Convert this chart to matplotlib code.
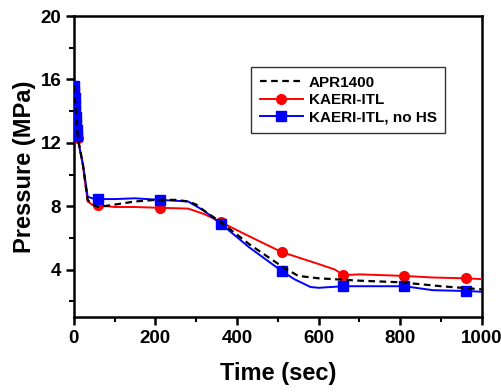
import matplotlib
matplotlib.use('Agg')
import matplotlib.pyplot as plt
from matplotlib.ticker import MultipleLocator

plt.rcParams['font.family'] = ['Liberation Sans', 'DejaVu Sans']
plt.rcParams['font.weight'] = 'bold'

# APR1400 (dashed)
t_apr = [0, 2, 4, 6, 8, 10, 22, 34, 45, 60, 100, 150, 200, 250, 280, 300, 320, 360,
         430, 510, 550, 600, 700, 800, 900, 1000]
p_apr = [15.6, 15.0, 14.3, 13.6, 12.9, 12.3, 10.7, 8.4, 8.1, 7.95, 8.1, 8.3, 8.4, 8.4, 8.3, 8.1, 7.7, 7.0,
         5.6, 4.2, 3.6, 3.45, 3.3, 3.2, 2.95, 2.75]

# KAERI-ITL
t_itl = [0, 2, 4, 6, 8, 10, 22, 34, 45, 60, 100, 150, 210, 280, 320, 360, 430, 510,
         600, 640, 660, 700, 810, 880, 960, 1000]
p_itl = [15.6, 15.0, 14.3, 13.6, 12.9, 12.3, 10.6, 8.3, 8.1, 8.05, 7.95, 7.95, 7.9, 7.85, 7.5, 7.0, 6.1, 5.1,
         4.35, 4.0, 3.65, 3.7, 3.6, 3.5, 3.45, 3.4]
mk_itl = [0, 1, 2, 3, 4, 5, 9, 12, 15, 17, 20, 22, 24]

# KAERI-ITL, no HS
t_nohs = [0, 1, 2, 3, 4, 5, 6, 7, 8, 22, 34, 45, 60, 100, 150, 210, 280, 320, 360, 430,
          510, 540, 580, 600, 660, 750, 810, 880, 960, 1000]
p_nohs = [15.6, 15.2, 14.8, 14.4, 14.0, 13.6, 13.2, 12.8, 12.4, 10.7, 8.6, 8.5, 8.45, 8.45, 8.5, 8.4, 8.3, 7.7, 6.9, 5.4,
          3.9, 3.4, 2.9, 2.85, 2.95, 2.95, 2.95, 2.7, 2.65, 2.6]
mk_nohs = [0, 1, 2, 3, 4, 5, 6, 7, 8, 12, 15, 18, 20, 24, 26, 28]

fig, ax = plt.subplots(figsize=(5.02, 3.92), dpi=100)
fig.subplots_adjust(left=0.147, right=0.960, top=0.959, bottom=0.191)

ax.plot(t_apr, p_apr, color='black', linestyle=(0, (3, 2)), linewidth=1.6, label='APR1400', zorder=4)
ax.plot(t_itl, p_itl, color='red', linewidth=1.4, marker='o', markersize=7,
        markevery=mk_itl, label='KAERI-ITL', zorder=3)
ax.plot(t_nohs, p_nohs, color='blue', linewidth=1.4, marker='s', markersize=7,
        markevery=mk_nohs, label='KAERI-ITL, no HS', zorder=3)

ax.set_xlim(0, 1000)
ax.set_ylim(1, 20)
ax.xaxis.set_major_locator(MultipleLocator(200))
ax.xaxis.set_minor_locator(MultipleLocator(100))
ax.yaxis.set_major_locator(MultipleLocator(4))
ax.yaxis.set_minor_locator(MultipleLocator(2))
ax.set_yticks([4, 8, 12, 16, 20])
ax.tick_params(which='major', direction='out', length=6, width=1.8, labelsize=13.5, pad=3)
ax.tick_params(which='minor', direction='out', length=3.5, width=1.5)
for s in ax.spines.values():
    s.set_linewidth(1.8)
for lab in ax.get_xticklabels() + ax.get_yticklabels():
    lab.set_fontweight('bold')

ax.set_xlabel('Time (sec)', fontsize=17, fontweight='bold', labelpad=11)
ax.set_ylabel('Pressure (MPa)', fontsize=17, fontweight='bold', labelpad=3)

leg = ax.legend(loc='upper left', bbox_to_anchor=(0.435, 0.83), borderaxespad=0,
                frameon=True, fancybox=False, edgecolor='black', handlelength=2.8,
                borderpad=0.55, labelspacing=0.22, handletextpad=0.4,
                prop={'weight': 'bold', 'size': 11})
leg.get_frame().set_linewidth(1.0)

fig.savefig('out.png', dpi=100)
